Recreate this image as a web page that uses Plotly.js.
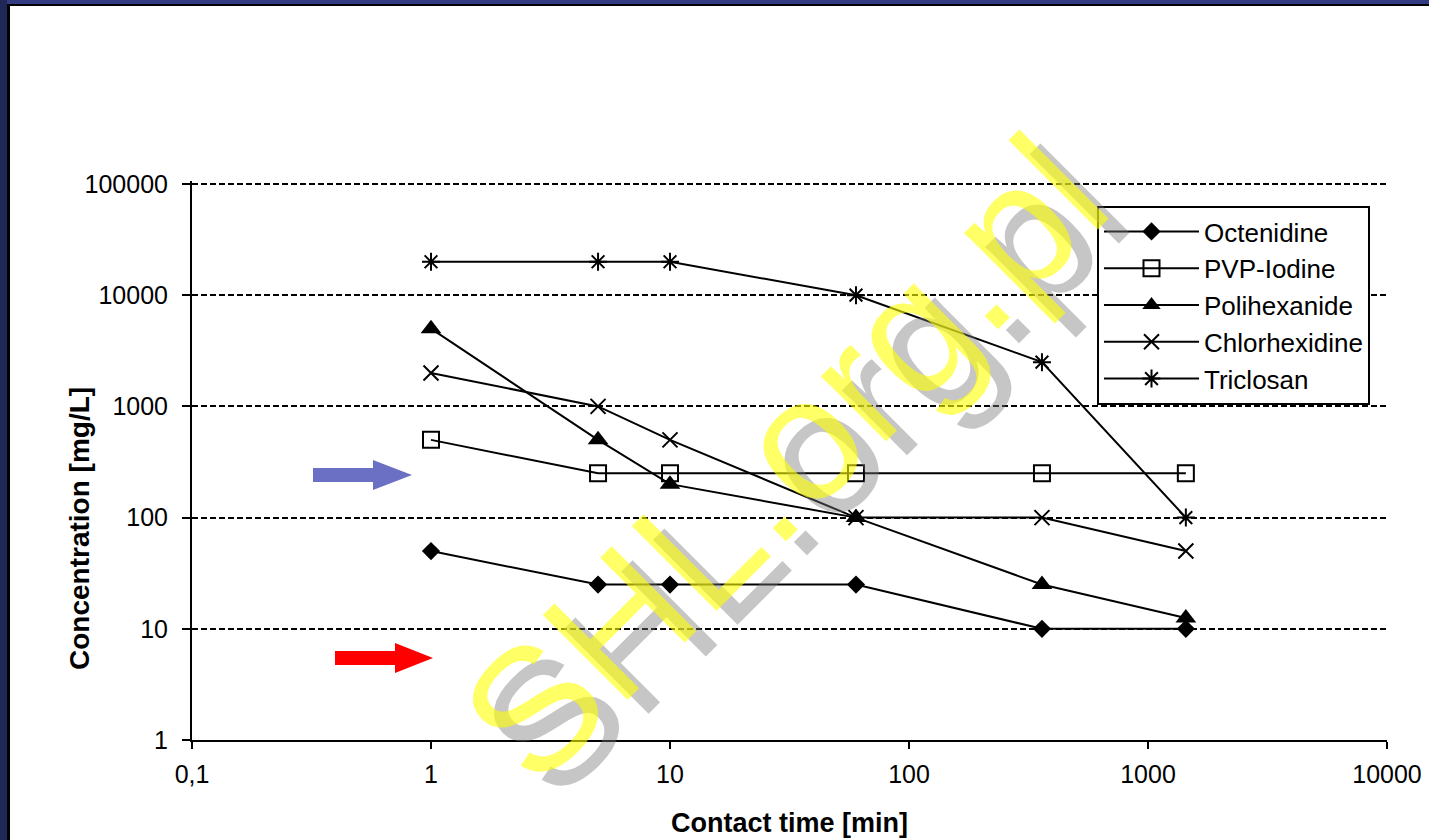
<!DOCTYPE html>
<html>
<head>
<meta charset="utf-8">
<script src="https://cdn.plot.ly/plotly-3.0.1.min.js"></script>
<style>
html,body{margin:0;padding:0;background:#fff;}
#chart{width:1429px;height:840px;}
</style>
</head>
<body>
<div id="chart"></div>
<script>
// ---- data ----
const contactTime = [1, 5, 10, 60, 360, 1440];
const seriesNames = ["Octenidine", "PVP-Iodine", "Polihexanide", "Chlorhexidine", "Triclosan"];
const octenidine = [50, 25, 25, 25, 10, 10];
const pvpIodine = [500, 250, 250, 250, 250, 250];
const polihexanide = [5000, 500, 200, 100, 25, 12.5];
const chlorhexidine = [2000, 1000, 500, 100, 100, 50];
const triclosan = [20000, 20000, 20000, 10000, 2500, 100];
const xTickVals = [0.1, 1, 10, 100, 1000, 10000];
const xTickText = ["0,1", "1", "10", "100", "1000", "10000"];
const yTickVals = [1, 10, 100, 1000, 10000, 100000];
const yTickText = ["1", "10", "100", "1000", "10000", "100000"];
const xTitle = "Contact time [min]";
const yTitle = "Concentration [mg/L]";
const watermark = "SHL.org.pl";

// ---- styles ----
const FONT = "Liberation Sans, Arial, sans-serif";
const seriesValues = [octenidine, pvpIodine, polihexanide, chlorhexidine, triclosan];
const markerStyles = [
  {symbol: "diamond", size: 14, color: "#000", line: {width: 0, color: "#000"}},
  {symbol: "square-open", size: 16, color: "#000", line: {width: 2, color: "#000"}},
  {symbol: "triangle-up", size: 18, color: "#000", line: {width: 0, color: "#000"}},
  {symbol: "x-thin", size: 15, color: "#000", line: {width: 2, color: "#000"}},
  {symbol: "asterisk", size: 15, color: "#000", line: {width: 2, color: "#000"}}
];

const traces = seriesNames.map((name, i) => ({
  type: "scatter",
  mode: "lines+markers",
  name: name,
  x: contactTime,
  y: seriesValues[i],
  line: {color: "#000", width: 2},
  marker: markerStyles[i],
  cliponaxis: false
}));

// plot-area pixel geometry -> paper coordinates for decorations
// (the plot area starts 3px above the top gridline so that gridline is kept)
const L = 192, R = 1387, T = 181, B = 740;
const px = x => (x - L) / (R - L);
const py = y => (B - y) / (B - T);
const yTop = 5 + 3 / ((B - 184) / 5);   // log-range top so that 100000 sits at y=184

function arrowPath(x0, xHead, xTip, yc, shaftHalf, headHalf) {
  return "M" + px(x0) + "," + py(yc - shaftHalf) +
    " L" + px(xHead) + "," + py(yc - shaftHalf) +
    " L" + px(xHead) + "," + py(yc - headHalf) +
    " L" + px(xTip) + "," + py(yc) +
    " L" + px(xHead) + "," + py(yc + headHalf) +
    " L" + px(xHead) + "," + py(yc + shaftHalf) +
    " L" + px(x0) + "," + py(yc + shaftHalf) + " Z";
}

const shapes = [
  // slide frame
  {type: "rect", xref: "paper", yref: "paper", layer: "below", x0: px(0), x1: px(1429), y0: py(0), y1: py(4), fillcolor: "#323a80", line: {width: 0}},
  {type: "rect", xref: "paper", yref: "paper", layer: "below", x0: px(0), x1: px(1429), y0: py(4), y1: py(6), fillcolor: "#000", line: {width: 0}},
  {type: "rect", xref: "paper", yref: "paper", layer: "below", x0: px(0), x1: px(7), y0: py(0), y1: py(840), fillcolor: "#1f2756", line: {width: 0}},
  {type: "rect", xref: "paper", yref: "paper", layer: "below", x0: px(7), x1: px(10), y0: py(6), y1: py(840), fillcolor: "#000", line: {width: 0}},
  // arrows
  {type: "path", xref: "paper", yref: "paper", path: arrowPath(313, 373, 412, 475, 7, 15), fillcolor: "#6b70c4", line: {width: 0}},
  {type: "path", xref: "paper", yref: "paper", path: arrowPath(335, 395, 433, 658, 7, 15), fillcolor: "#ff0000", line: {width: 0}}
];

const annotations = [
  // y-axis title (placed as in the reference, below the plot centre)
  {text: "<b>" + yTitle + "</b>", xref: "paper", yref: "paper", x: px(79), y: py(529), xanchor: "center", yanchor: "middle",
   textangle: -90, showarrow: false, font: {family: FONT, size: 28, color: "#000"}},
  // watermark: grey shadow then translucent yellow
  {text: watermark, xref: "paper", yref: "paper", x: px(804), y: py(472), xanchor: "center", yanchor: "middle",
   textangle: -45, showarrow: false, font: {family: FONT, size: 174, color: "rgba(120,120,120,0.42)"}},
  {text: watermark, xref: "paper", yref: "paper", x: px(783), y: py(458), xanchor: "center", yanchor: "middle",
   textangle: -45, showarrow: false, font: {family: FONT, size: 174, color: "rgba(255,255,0,0.6)"}}
];

const layout = {
  width: 1429, height: 840,
  paper_bgcolor: "#ffffff", plot_bgcolor: "#ffffff",
  margin: {l: L, r: 1429 - R, t: T, b: 840 - B, pad: 0},
  font: {family: FONT, color: "#000"},
  showlegend: true,
  legend: {
    x: px(1097), y: py(206), xanchor: "left", yanchor: "top",
    bgcolor: "rgba(255,255,255,0)", bordercolor: "#000", borderwidth: 2,
    font: {family: FONT, size: 26, color: "#000"},
    tracegroupgap: 0, itemwidth: 95
  },
  xaxis: {
    type: "log", range: [-1, 4],
    tickvals: xTickVals, ticktext: xTickText,
    ticks: "outside", ticklen: 7, tickwidth: 2, tickcolor: "#000",
    ticklabelstandoff: 4,
    showline: true, linecolor: "#000", linewidth: 2,
    showgrid: false, zeroline: false,
    tickfont: {family: FONT, size: 25, color: "#000"},
    title: {text: xTitle, standoff: 26, font: {family: FONT, size: 27, color: "#000", weight: "bold"}},
    automargin: false
  },
  yaxis: {
    type: "log", range: [0, yTop],
    tickvals: yTickVals, ticktext: yTickText,
    ticks: "outside", ticklen: 8, tickwidth: 2, tickcolor: "#000",
    ticklabelstandoff: 9,
    showline: true, linecolor: "#000", linewidth: 2,
    showgrid: true, gridcolor: "#000", gridwidth: 2, griddash: "6px,3px",
    zeroline: false,
    tickfont: {family: FONT, size: 25, color: "#000"},
    automargin: false
  },
  shapes: shapes,
  annotations: annotations
};

Plotly.newPlot("chart", traces, layout, {displayModeBar: false, staticPlot: true}).then(gd => {
  // white backing for the legend box (drawn above the grid, below the watermark)
  const lg = gd._fullLayout.legend || {};
  const w = lg._width, h = lg._height;
  if (w && h) {
    const back = {type: "rect", xref: "paper", yref: "paper", layer: "above",
      x0: px(1097), x1: px(1097 + w), y0: py(206 + h), y1: py(206),
      fillcolor: "#ffffff", line: {width: 0}};
    Plotly.relayout(gd, {shapes: shapes.concat([back])});
  }
});
</script>
</body>
</html>
